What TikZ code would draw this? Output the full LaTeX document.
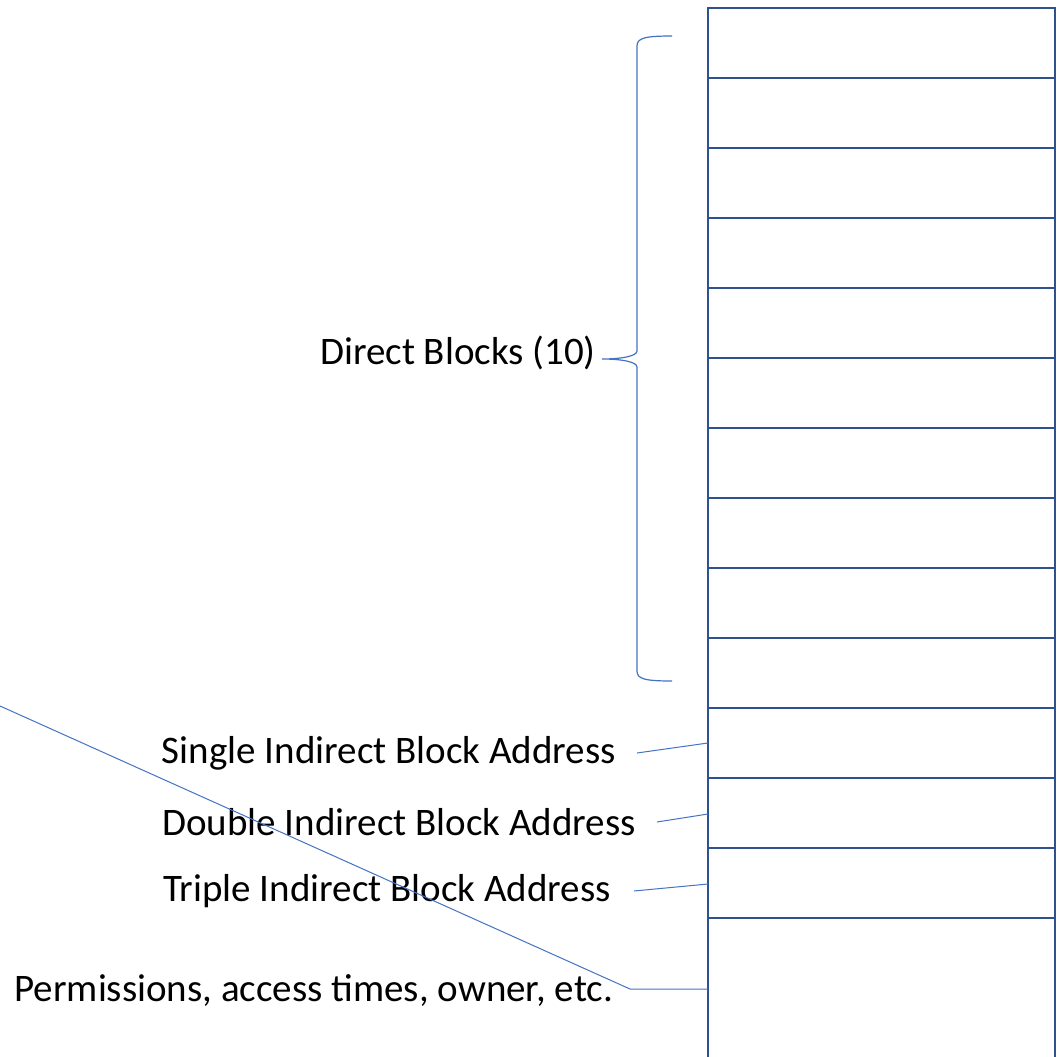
\documentclass[tikz,border=0pt]{standalone}
\usepackage{fontspec}
\setmainfont{Carlito}
\definecolor{tbl}{HTML}{2F528F}
\definecolor{conn}{HTML}{4472C4}
\begin{document}
\begin{tikzpicture}[x=1pt,y=-1pt,
  cell/.style={draw=tbl,line width=2.4pt,minimum width=347pt,minimum height=70pt,inner sep=0pt,outer sep=0pt,anchor=north west},
  lbl/.style={font=\fontsize{39}{46}\selectfont,inner sep=0pt,anchor=east,text=black},
  link/.style={draw=conn,line width=1pt}]
\useasboundingbox[fill=white] (0,0) rectangle (1061,1057);
% table rows
\foreach \i in {1,...,13}{
  \node[cell] (c\i) at (708,{8+70*(\i-1)}) {};
}
% open bottom cell
\coordinate (bl) at (708,918);
\coordinate (br) at (1055,918);
\draw[tbl,line width=2.4pt] (bl) -- (708,1060);
\draw[tbl,line width=2.4pt] (br) -- (1055,1060);
% labels
\node[lbl] (direct) at (596,353) {Direct Blocks (10)};
\node[lbl] (single) at (616,753) {Single Indirect Block Address};
\node[lbl] (double) at (636,822) {Double Indirect Block Address};
\node[lbl] (triple) at (611,891) {Triple Indirect Block Address};
\node[lbl] (perm) at (613,991) {Permissions, access times, owner, etc.};
% brace
\coordinate (bt) at (672,36);
\coordinate (bb) at (672,681);
\coordinate (btip) at (602,359);
\draw[link,line width=1.2pt] (bt) .. controls (645,36) and (637,38) .. (637,46)
  -- (637,351) .. controls (637,356) and (622,359) .. (btip)
  .. controls (622,359) and (637,362) .. (637,367)
  -- (637,671) .. controls (637,679) and (645,681) .. (bb);
% connectors
\draw[link] ([xshift=21pt]single.east) -- (c11.west |- 0,743);
\draw[link] ([xshift=21pt]double.east) -- (c12.west |- 0,814);
\draw[link] ([xshift=23pt]triple.east) -- (c13.west |- 0,884);
\coordinate (far) at (-20,697);
\draw[link] (bl |- 0,989) -- (630,989) -- (far);
\end{tikzpicture}
\end{document}
